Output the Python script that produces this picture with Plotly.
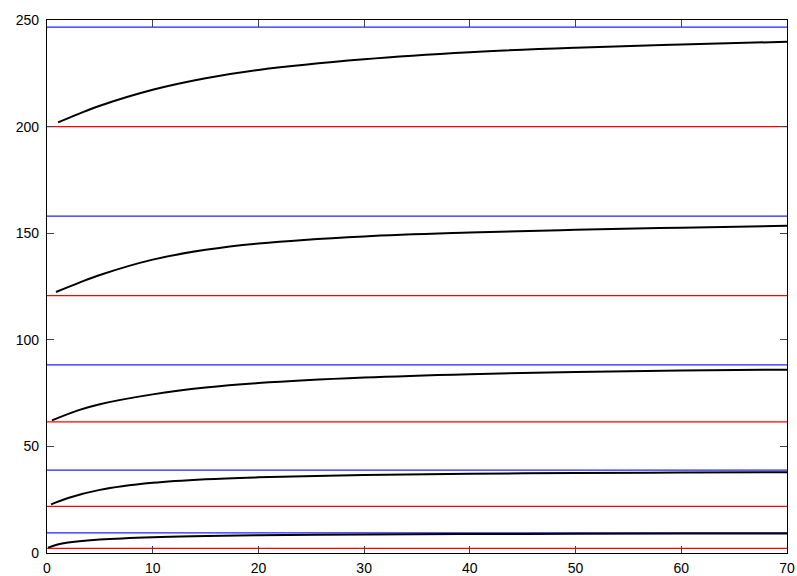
import plotly.graph_objects as go

# Lower (red) and upper (blue) reference levels for each of the five bands
lower_levels = [2.2, 21.9, 61.5, 120.7, 200.0]
upper_levels = [9.4, 38.9, 88.2, 158.0, 246.7]

# Rising curves, one per band
curve1_x = [1.05, 3, 5, 10, 15, 20, 30, 40, 50, 60, 70]
curve1_y = [202.0, 206.0, 209.8, 217.3, 222.7, 226.6, 231.6, 234.9, 237.0, 238.5, 239.8]

curve2_x = [0.85, 3, 5, 10, 15, 20, 30, 40, 50, 60, 70]
curve2_y = [122.4, 126.7, 130.4, 137.6, 142.2, 145.2, 148.5, 150.3, 151.6, 152.6, 153.5]

curve3_x = [0.47, 3, 5, 10, 15, 20, 30, 40, 50, 60, 70]
curve3_y = [62.2, 67.0, 69.8, 74.4, 77.6, 79.7, 82.3, 83.9, 84.9, 85.6, 86.0]

curve4_x = [0.38, 2, 5, 10, 15, 20, 30, 40, 50, 60, 70]
curve4_y = [22.8, 25.8, 29.6, 32.9, 34.6, 35.5, 36.6, 37.2, 37.5, 37.7, 37.9]

curve5_x = [0.1, 1, 2, 5, 10, 20, 30, 40, 50, 60, 70]
curve5_y = [2.5, 4.0, 4.9, 6.3, 7.4, 8.3, 8.7, 8.9, 9.0, 9.1, 9.2]

x_range = [0, 70]
y_range = [0, 250]
x_ticks = [0, 10, 20, 30, 40, 50, 60, 70]
y_ticks = [0, 50, 100, 150, 200, 250]

fig = go.Figure()

for lvl in lower_levels:
    fig.add_trace(go.Scatter(x=x_range, y=[lvl, lvl], mode="lines",
                             line=dict(color="#ff0000", width=1.2),
                             showlegend=False, hoverinfo="skip"))
for lvl in upper_levels:
    fig.add_trace(go.Scatter(x=x_range, y=[lvl, lvl], mode="lines",
                             line=dict(color="#2020ff", width=1.2),
                             showlegend=False, hoverinfo="skip"))

for cx, cy in [(curve1_x, curve1_y), (curve2_x, curve2_y), (curve3_x, curve3_y),
               (curve4_x, curve4_y), (curve5_x, curve5_y)]:
    fig.add_trace(go.Scatter(x=cx, y=cy, mode="lines",
                             line=dict(color="#000000", width=2, shape="spline", smoothing=1.0),
                             showlegend=False))

axis_font = dict(family="Liberation Sans, Arial, sans-serif", size=14, color="#000000")

fig.update_xaxes(range=x_range, tickvals=x_ticks, ticks="inside", ticklen=7,
                 tickcolor="#444444", tickwidth=1, mirror="ticks", showline=True,
                 linecolor="#000000", linewidth=1.3, showgrid=False, zeroline=False,
                 tickfont=axis_font, ticklabelstandoff=2, automargin=False)
fig.update_yaxes(range=y_range, tickvals=y_ticks, ticks="inside", ticklen=7,
                 tickcolor="#444444", tickwidth=1, mirror="ticks", showline=True,
                 linecolor="#000000", linewidth=1.3, showgrid=False, zeroline=False,
                 tickfont=axis_font, ticklabelstandoff=4, automargin=False)

fig.update_layout(width=797, height=576, margin=dict(l=47, r=10, t=20, b=23),
                  paper_bgcolor="white", plot_bgcolor="white")

fig.write_html("out.html")
